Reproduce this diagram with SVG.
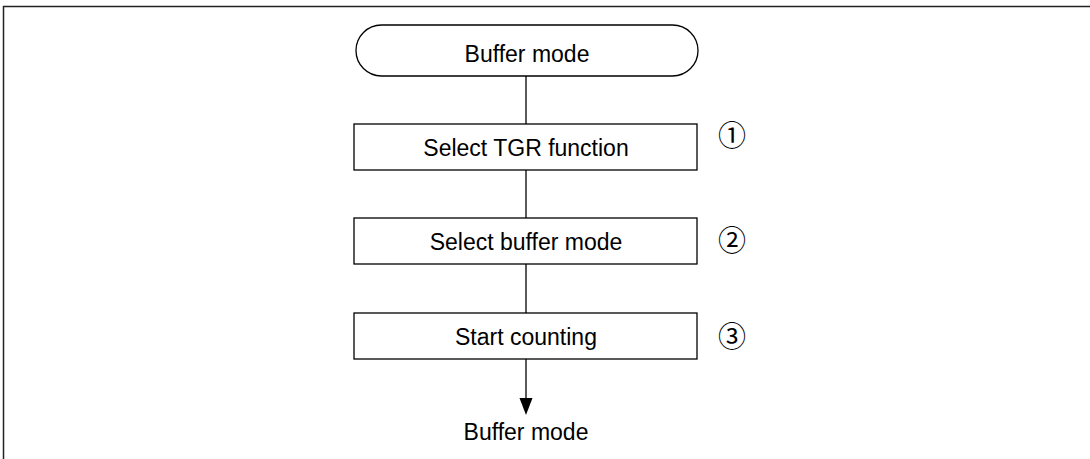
<svg xmlns="http://www.w3.org/2000/svg" width="1090" height="459" viewBox="0 0 1090 459">
<style>
.box{fill:#fff;stroke:#000;stroke-width:1.3}
.lbl{font-family:"Liberation Sans",Arial,sans-serif;font-size:23px;fill:#000;text-anchor:middle}
.num{font-family:"Noto Sans CJK JP","DejaVu Sans",sans-serif;font-size:28px;fill:#000;text-anchor:middle}
.ln{stroke:#000;stroke-width:1.3;fill:none}
</style>
<rect width="1090" height="459" fill="#fff"/>
<path d="M3.5,459 L3.5,6.5 L1090,6.5" stroke="#222" stroke-width="1.5" fill="none"/>
<g id="connectors">
<line class="ln" x1="526" y1="76" x2="526" y2="124"/>
<line class="ln" x1="526" y1="170" x2="526" y2="218"/>
<line class="ln" x1="526" y1="264" x2="526" y2="313"/>
<line class="ln" x1="526" y1="359" x2="526" y2="400"/>
<path d="M519.5,398 L532.5,398 L526,415 Z" fill="#000"/>
</g>
<g id="start">
<rect class="box" x="356" y="25" width="342" height="51" rx="25.5" ry="25.5"/>
<text class="lbl" x="527" y="62">Buffer mode</text>
</g>
<g id="step1">
<rect class="box" x="354" y="124" width="343" height="46"/>
<text class="lbl" x="526" y="156">Select TGR function</text>
<text class="num" x="732" y="146">①</text>
</g>
<g id="step2">
<rect class="box" x="354" y="218" width="343" height="46"/>
<text class="lbl" x="526" y="250">Select buffer mode</text>
<text class="num" x="732" y="251">②</text>
</g>
<g id="step3">
<rect class="box" x="354" y="313" width="343" height="46"/>
<text class="lbl" x="526" y="345">Start counting</text>
<text class="num" x="732" y="347">③</text>
</g>
<g id="end">
<text class="lbl" x="526" y="440">Buffer mode</text>
</g>
</svg>
